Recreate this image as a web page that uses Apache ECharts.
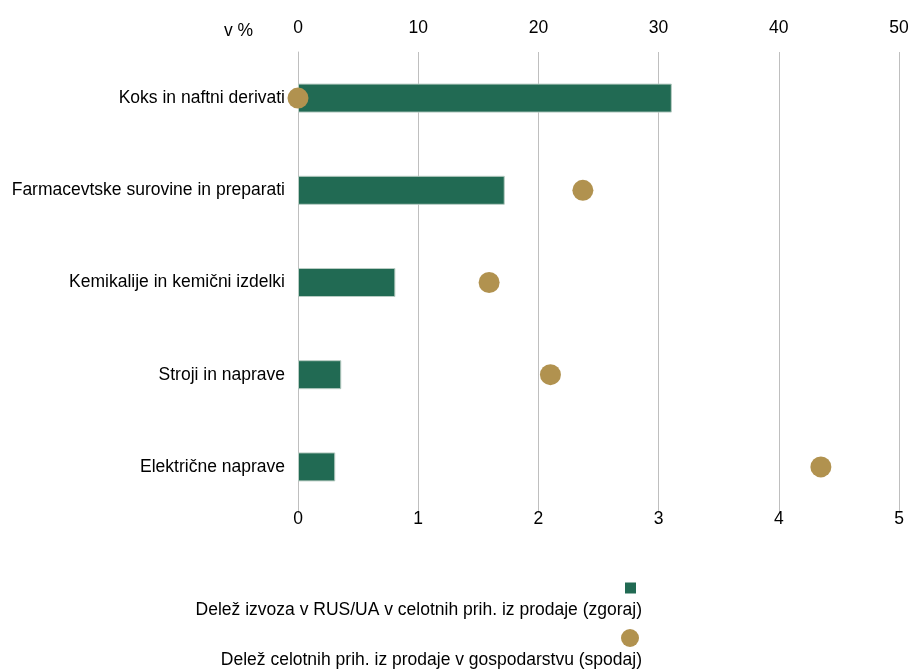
<!DOCTYPE html>
<html>
<head>
<meta charset="utf-8">
<script src="https://cdn.jsdelivr.net/npm/echarts@6/dist/echarts.min.js"></script>
<style>
  html, body { margin: 0; padding: 0; background: #ffffff; }
  #chart { width: 910px; height: 672px; }
</style>
</head>
<body>
<div id="chart"></div>
<script>
// Panoge (od zgoraj navzdol)
var categories = [
  'Koks in naftni derivati',
  'Farmacevtske surovine in preparati',
  'Kemikalije in kemični izdelki',
  'Stroji in naprave',
  'Električne naprave'
];
// Delež izvoza v RUS/UA v celotnih prihodkih iz prodaje (zgornja os, %)
var exportShare = [31.1, 17.2, 8.1, 3.6, 3.1];
// Delež celotnih prihodkov iz prodaje v gospodarstvu (spodnja os, %)
var salesShare = [0.0, 2.37, 1.59, 2.1, 4.35];
// Oznake osi
var topTicks = [0, 10, 20, 30, 40, 50];
var bottomTicks = [0, 1, 2, 3, 4, 5];

var seriesNames = [
  'Delež izvoza v RUS/UA v celotnih prih. iz prodaje (zgoraj)',
  'Delež celotnih prih. iz prodaje v gospodarstvu (spodaj)'
];

var FONT = '"Liberation Sans", Arial, sans-serif';
var FS = 17.5;
var GREEN = '#216A53';
var GOLD = '#B1924F';

var chart = echarts.init(document.getElementById('chart'), null, { renderer: 'canvas' });

var option = {
  backgroundColor: '#ffffff',
  animation: false,
  textStyle: { fontFamily: FONT, color: '#000000' },
  title: {
    text: 'v %',
    left: 219,
    top: 17,
    textStyle: { fontFamily: FONT, fontSize: FS, fontWeight: 'normal', color: '#000000' }
  },
  grid: { left: 298, right: 11, top: 52, height: 461, outerBoundsMode: 'none', containLabel: false },
  xAxis: [
    {
      type: 'value',
      position: 'top',
      min: topTicks[0],
      max: topTicks[topTicks.length - 1],
      interval: topTicks[1] - topTicks[0],
      axisLine: { show: false },
      axisTick: { show: false },
      axisLabel: { margin: 15, fontSize: FS, fontFamily: FONT, color: '#000000' },
      splitLine: { show: true, lineStyle: { color: '#BFBFBF', width: 1 } }
    },
    {
      type: 'value',
      position: 'bottom',
      min: bottomTicks[0],
      max: bottomTicks[bottomTicks.length - 1],
      interval: bottomTicks[1] - bottomTicks[0],
      axisLine: { show: false },
      axisTick: { show: false },
      axisLabel: { margin: -3, fontSize: FS, fontFamily: FONT, color: '#000000' },
      splitLine: { show: false }
    }
  ],
  yAxis: {
    type: 'category',
    data: categories,
    inverse: true,
    axisLine: { show: true, lineStyle: { color: '#BFBFBF', width: 1 } },
    axisTick: { show: false },
    axisLabel: { margin: 13, fontSize: FS, fontFamily: FONT, color: '#000000' }
  },
  legend: {
    orient: 'vertical',
    left: 186,
    top: 579,
    height: 110,
    padding: 0,
    itemGap: 10,
    itemWidth: 0,
    itemHeight: 0,
    icon: 'rect',
    selectedMode: false,
    data: seriesNames,
    formatter: function (n) {
      return (n === seriesNames[0] ? '{sq|}{sp1|}' : '{ci|}{sp2|}') + '\n{t|' + n + '}';
    },
    textStyle: {
      fontFamily: FONT,
      fontSize: FS,
      color: '#000000',
      rich: {
        sq: { width: 11, height: 11, backgroundColor: GREEN, align: 'right', lineHeight: 20 },
        sp1: { width: 6, height: 11, align: 'right', lineHeight: 20 },
        ci: { width: 18, height: 18, borderRadius: 9, backgroundColor: GOLD, align: 'right', lineHeight: 20 },
        sp2: { width: 3, height: 18, align: 'right', lineHeight: 20 },
        t: { width: 450, align: 'right', fontSize: FS, fontFamily: FONT, color: '#000000', lineHeight: 24 }
      }
    }
  },
  series: [
    {
      name: seriesNames[0],
      type: 'bar',
      xAxisIndex: 0,
      yAxisIndex: 0,
      data: exportShare,
      barWidth: 29,
      itemStyle: { color: GREEN, borderColor: '#B8CCC3', borderWidth: 1 },
      z: 2
    },
    {
      name: seriesNames[1],
      type: 'scatter',
      xAxisIndex: 1,
      yAxisIndex: 0,
      data: salesShare.map(function (v, i) { return [v, categories[i]]; }),
      symbol: 'circle',
      symbolSize: 21,
      itemStyle: { color: GOLD, opacity: 1 },
      z: 3
    }
  ]
};

chart.setOption(option);
</script>
</body>
</html>
